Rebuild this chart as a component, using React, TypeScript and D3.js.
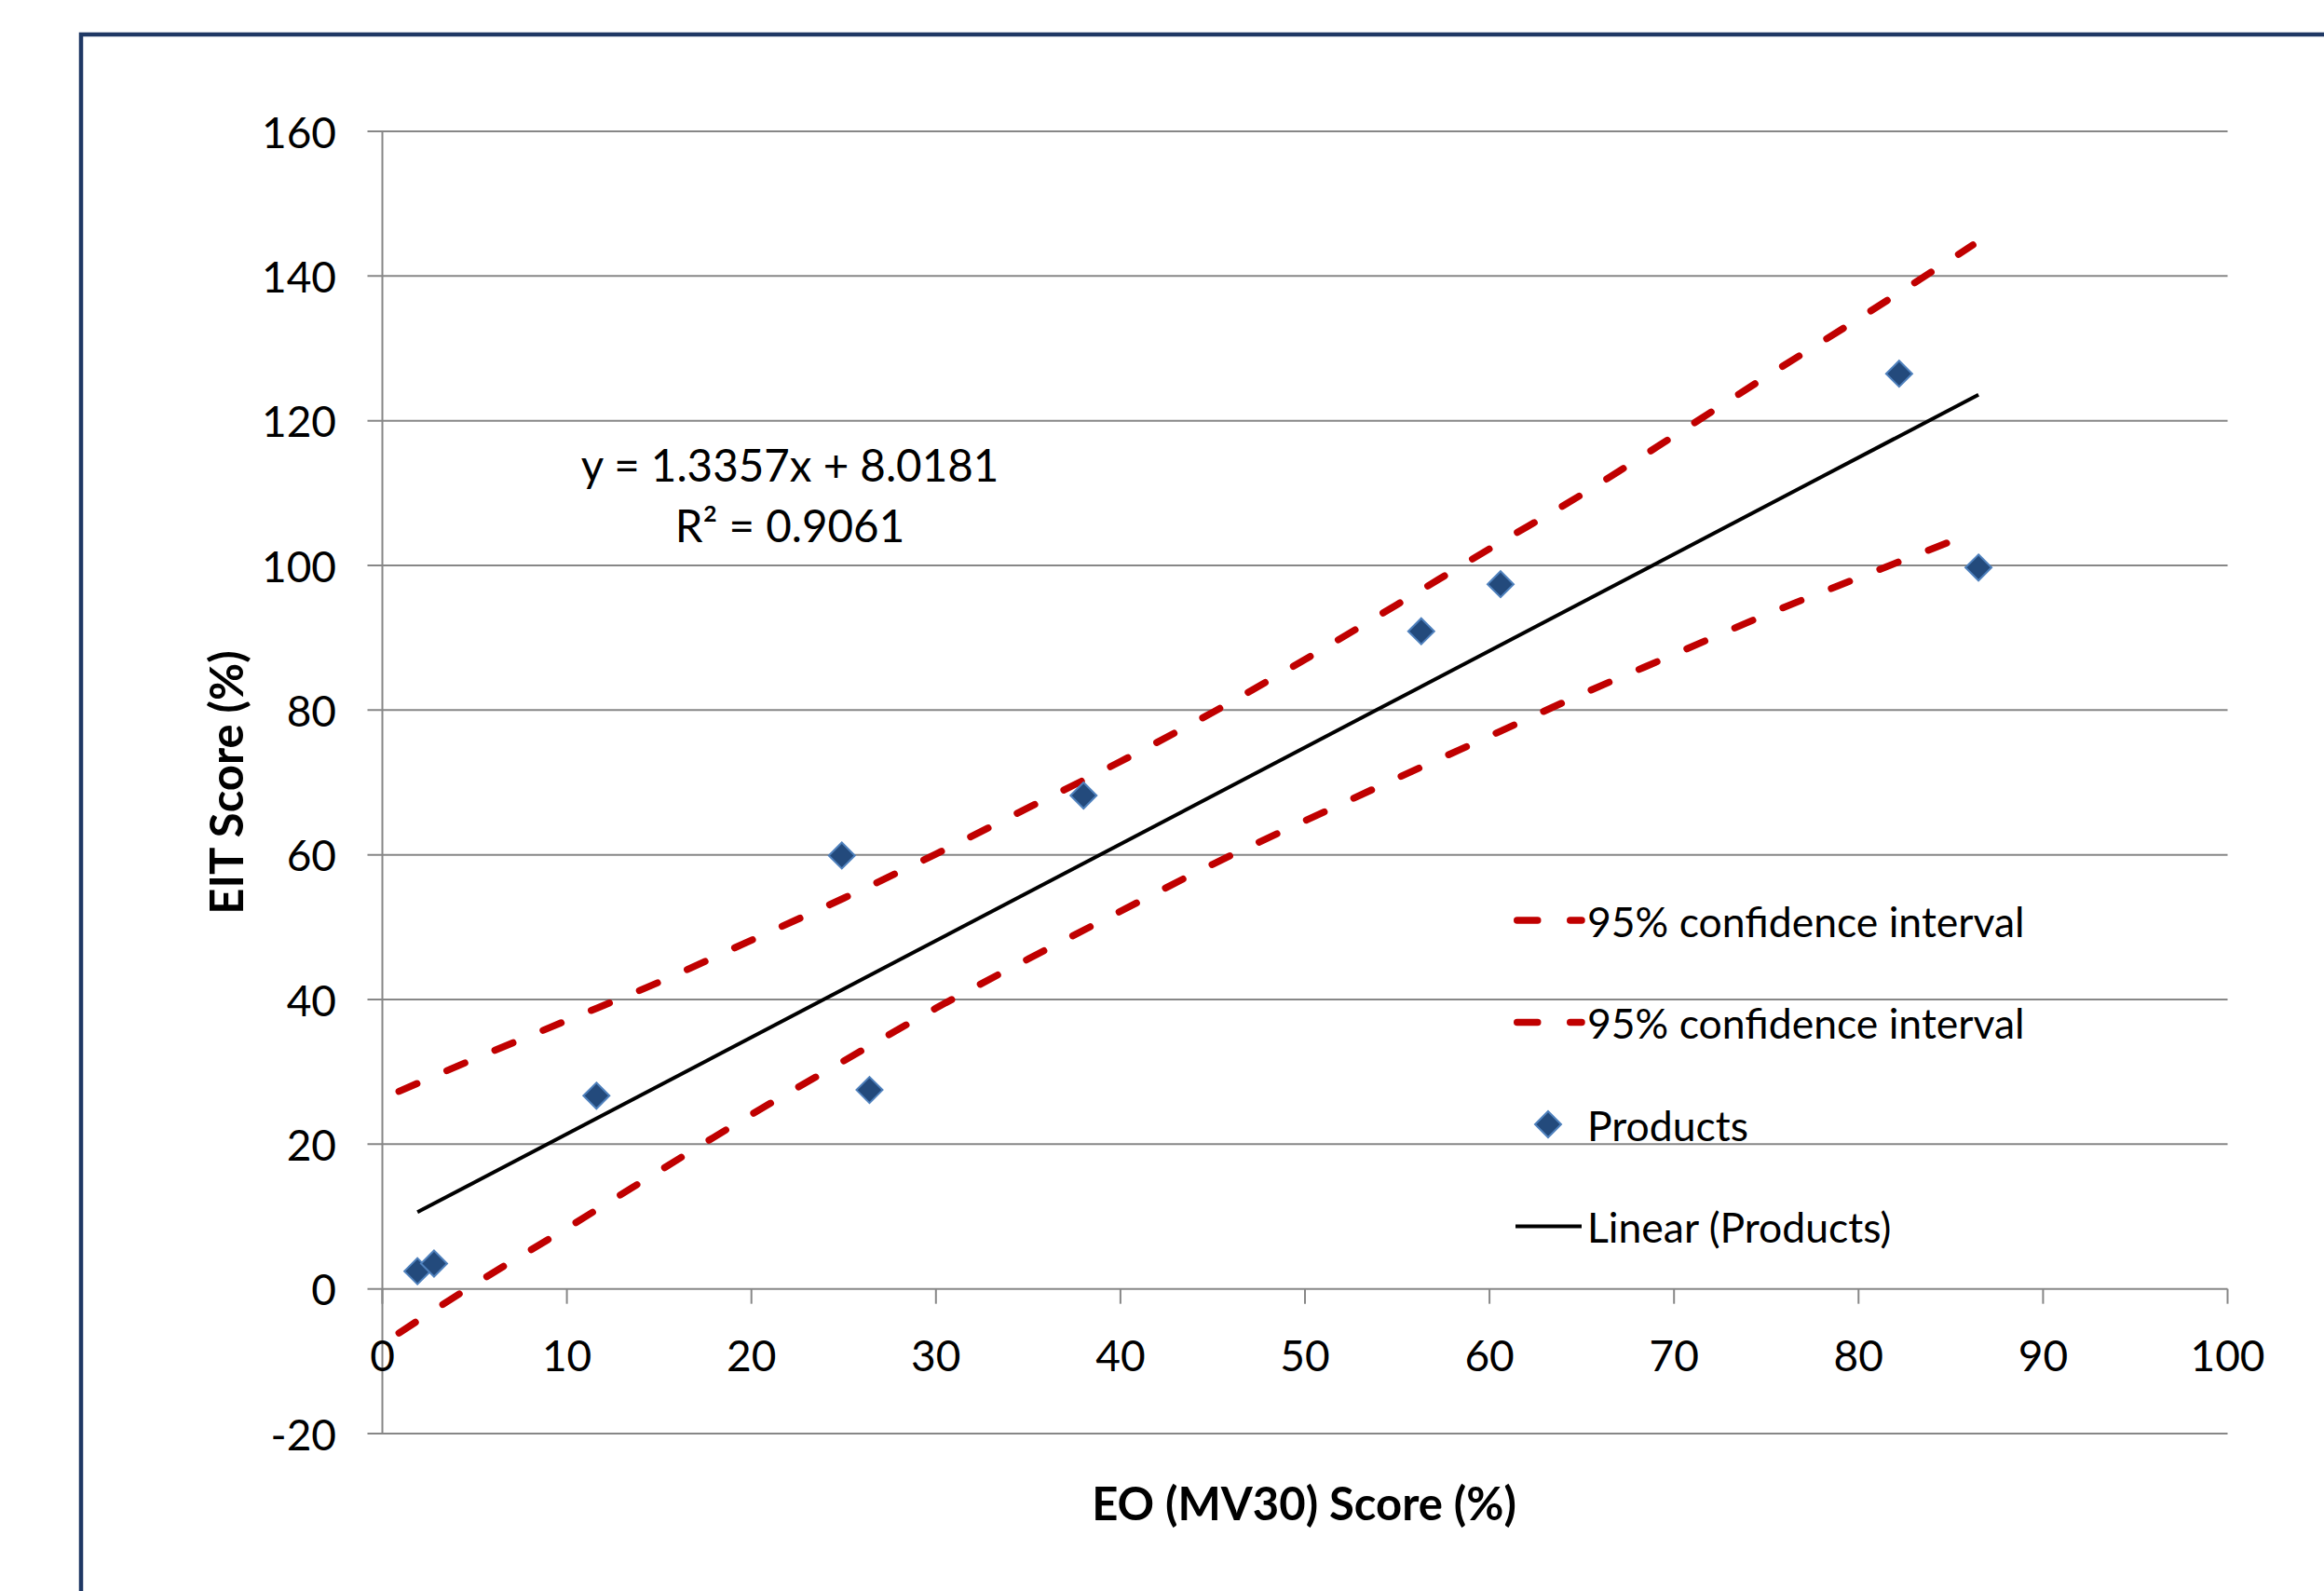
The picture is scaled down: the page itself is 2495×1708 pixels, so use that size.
import React from "react";
import * as d3 from "d3";

// ---------- data ----------
const eoScores = [1.9, 2.8, 11.6, 24.9, 26.4, 38.0, 56.3, 60.6, 82.2, 86.5];
const eitScores = [2.45, 3.5, 26.7, 59.9, 27.5, 68.2, 90.9, 97.4, 126.5, 99.7];

const trendX = [1.9, 86.5];
const trendY = [10.6, 123.6];

const upperX = [0.9, 5, 10, 15, 20, 25, 30, 35, 40, 45, 50, 55, 60, 65, 70, 75, 80, 86.2];
const upperY = [27.3, 31.8, 37.1, 42.4, 48.2, 54.0, 60.1, 66.5, 72.9, 79.7, 87.0, 94.6, 102.3, 109.8, 117.9, 126.1, 134.1, 144.3];

const lowerX = [0.9, 5, 10, 15, 20, 25, 30, 35, 40, 45, 50, 55, 60, 65, 70, 75, 80, 86.2];
const lowerY = [-6.1, 0.65, 8.4, 16.3, 24.1, 31.5, 38.8, 45.6, 52.2, 58.7, 64.7, 70.6, 76.4, 82.2, 87.7, 93.2, 98.3, 104.5];

const xTicks = [0, 10, 20, 30, 40, 50, 60, 70, 80, 90, 100];
const yTicks = [-20, 0, 20, 40, 60, 80, 100, 120, 140, 160];

const legendItems = ["95% confidence interval", "95% confidence interval", "Products", "Linear (Products)"];
const equationLines = ["y = 1.3357x + 8.0181", "R² = 0.9061"];
const xTitle = "EO (MV30) Score (%)";
const yTitle = "EIT Score (%)";

// ---------- styles ----------
const W = 2495;
const H = 1708;
const FONT = "Lato, 'Open Sans', sans-serif";
const GRID = "#878787";
const RED = "#C00000";
const NAVY = "#1F3864";
const MARK_FILL = "#234A7C";
const MARK_STROKE = "#4F81BD";

export default function App() {
  const x = d3.scaleLinear().domain([0, 100]).range([410.5, 2391.5]);
  const y = d3.scaleLinear().domain([-20, 160]).range([1539, 141]);

  const line = d3
    .line<[number, number]>()
    .x((d) => x(d[0]))
    .y((d) => y(d[1]))
    .curve(d3.curveMonotoneX);

  const upperPts = upperX.map((v, i) => [v, upperY[i]] as [number, number]);
  const lowerPts = lowerX.map((v, i) => [v, lowerY[i]] as [number, number]);
  const trendPts = trendX.map((v, i) => [v, trendY[i]] as [number, number]);

  const diamond = (cx: number, cy: number, r: number) =>
    `M${cx},${cy - r}L${cx + r},${cy}L${cx},${cy + r}L${cx - r},${cy}Z`;

  const tickLen = 16;
  const x0 = x(0);
  const x100 = x(100);
  const yZero = y(0);

  const legendX = 1625;
  const legendTextX = 1704;
  const legendY0 = 988;
  const legendStep = 109.5;

  return (
    <svg
      width={W}
      height={H}
      style={{ position: "absolute", left: 0, top: 0, display: "block", background: "#fff" }}
    >
      {/* outer frame */}
      <rect x={87} y={37} width={W} height={H} fill="none" stroke={NAVY} strokeWidth={4.5} />

      {/* horizontal gridlines + y ticks */}
      {yTicks.map((t) => (
        <line
          key={"g" + t}
          x1={x0 - tickLen}
          x2={x100}
          y1={y(t)}
          y2={y(t)}
          stroke={GRID}
          strokeWidth={2}
        />
      ))}
      {/* y axis */}
      <line x1={x0} x2={x0} y1={y(160)} y2={y(-20)} stroke={GRID} strokeWidth={2} />
      {/* x axis ticks */}
      {xTicks.map((t) => (
        <line key={"xt" + t} x1={x(t)} x2={x(t)} y1={yZero} y2={yZero + tickLen} stroke={GRID} strokeWidth={2} />
      ))}

      {/* y tick labels */}
      {yTicks.map((t) => (
        <text
          key={"yl" + t}
          x={361}
          y={y(t)}
          textAnchor="end"
          dominantBaseline="central"
          fontFamily={FONT}
          fontSize={46}
          fill="#000"
        >
          {t}
        </text>
      ))}
      {/* x tick labels */}
      {xTicks.map((t) => (
        <text
          key={"xl" + t}
          x={x(t)}
          y={1454}
          textAnchor="middle"
          dominantBaseline="central"
          fontFamily={FONT}
          fontSize={46}
          fill="#000"
        >
          {t}
        </text>
      ))}

      {/* axis titles */}
      <text
        x={1400}
        y={1613}
        textAnchor="middle"
        dominantBaseline="central"
        fontFamily={FONT}
        fontWeight="bold"
        fontSize={49}
      >
        {xTitle}
      </text>
      <text
        transform={`translate(242,840) rotate(-90)`}
        textAnchor="middle"
        dominantBaseline="central"
        fontFamily={FONT}
        fontWeight="bold"
        fontSize={49}
      >
        {yTitle}
      </text>

      {/* confidence bands */}
      <path
        d={line(upperPts) || ""}
        fill="none"
        stroke={RED}
        strokeWidth={7.5}
        strokeDasharray="21 35"
        strokeLinecap="round"
      />
      <path
        d={line(lowerPts) || ""}
        fill="none"
        stroke={RED}
        strokeWidth={7.5}
        strokeDasharray="21 35"
        strokeLinecap="round"
      />

      {/* trend line */}
      <path d={line(trendPts) || ""} fill="none" stroke="#000" strokeWidth={4} />

      {/* points */}
      {eoScores.map((v, i) => (
        <path
          key={"p" + i}
          d={diamond(x(v), y(eitScores[i]), 14)}
          fill={MARK_FILL}
          stroke={MARK_STROKE}
          strokeWidth={2}
        />
      ))}

      {/* equation */}
      {equationLines.map((s, i) => (
        <text
          key={"eq" + i}
          x={848}
          y={498 + i * 65}
          textAnchor="middle"
          dominantBaseline="central"
          fontFamily={FONT}
          fontSize={47.5}
        >
          {s}
        </text>
      ))}

      {/* legend */}
      {legendItems.map((s, i) => {
        const cy = legendY0 + i * legendStep;
        let sym: React.ReactNode = null;
        if (i < 2) {
          sym = (
            <line
              x1={legendX + 3.75}
              x2={legendX + 73}
              y1={cy}
              y2={cy}
              stroke={RED}
              strokeWidth={7.5}
              strokeDasharray="22 35"
              strokeLinecap="round"
            />
          );
        } else if (i === 2) {
          sym = <path d={diamond(legendX + 37, cy, 14)} fill={MARK_FILL} stroke={MARK_STROKE} strokeWidth={2} />;
        } else {
          sym = <line x1={legendX + 2} x2={legendX + 73} y1={cy} y2={cy} stroke="#000" strokeWidth={4} />;
        }
        return (
          <g key={"lg" + i}>
            {sym}
            <text
              x={legendTextX}
              y={cy}
              dominantBaseline="central"
              fontFamily={FONT}
              fontSize={44.5}
            >
              {s}
            </text>
          </g>
        );
      })}
    </svg>
  );
}
